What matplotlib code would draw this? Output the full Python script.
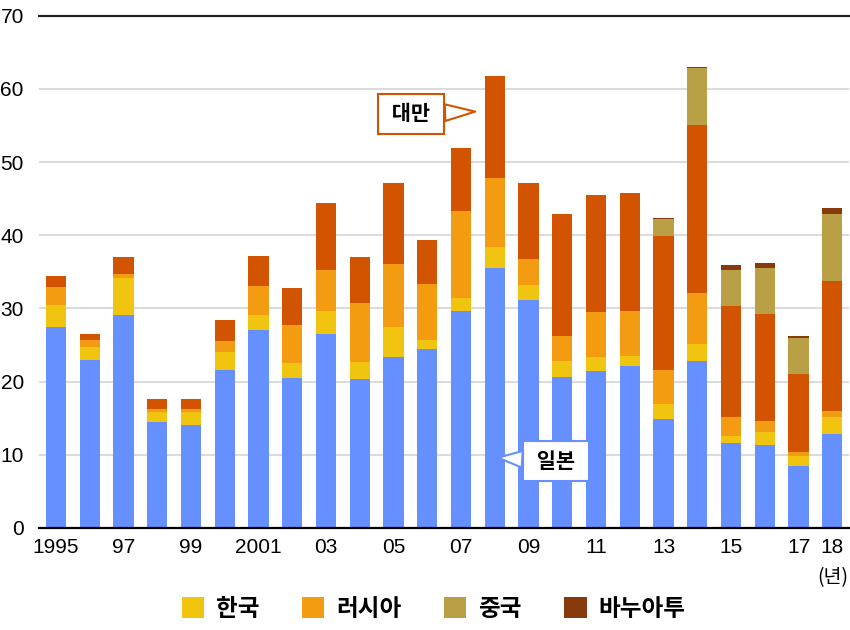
import numpy as np
import matplotlib.pyplot as plt
from matplotlib.patches import Patch

plt.rcParams['font.family'] = ['Liberation Sans', 'Noto Sans CJK KR', 'DejaVu Sans']

years = list(range(1995, 2019))
tick_labels = ['1995', '', '97', '', '99', '', '2001', '', '03', '', '05', '', '07', '',
               '09', '', '11', '', '13', '', '15', '', '17', '18']

# segment heights, stacked bottom to top
japan = [27.4, 22.9, 29.1, 14.5, 14.1, 21.6, 27.0, 20.5, 26.5, 20.4, 23.4, 24.5,
         29.6, 35.5, 31.1, 20.6, 21.5, 22.1, 14.9, 22.8, 11.6, 11.4, 8.4, 12.9]
korea = [3.1, 1.8, 5.0, 1.4, 1.8, 2.4, 2.1, 2.0, 3.1, 2.3, 4.0, 1.2,
         1.8, 2.9, 2.1, 2.2, 1.8, 1.4, 2.0, 2.3, 1.0, 1.7, 1.5, 2.3]
russia = [2.4, 1.0, 0.6, 0.4, 0.4, 1.6, 3.9, 5.2, 5.7, 8.1, 8.7, 7.6,
          11.9, 9.4, 3.6, 3.5, 6.2, 6.1, 4.7, 7.0, 2.5, 1.5, 0.5, 0.8]
taiwan = [1.5, 0.8, 2.3, 1.3, 1.3, 2.8, 4.1, 5.1, 9.1, 6.2, 11.1, 6.1,
          8.6, 14.0, 10.4, 16.6, 16.0, 16.2, 18.3, 23.0, 15.2, 14.6, 10.7, 17.8]
china = [0, 0, 0, 0, 0, 0, 0, 0, 0, 0, 0, 0,
         0, 0, 0, 0, 0, 0, 2.3, 7.8, 4.9, 6.3, 4.8, 9.1]
vanuatu = [0, 0, 0, 0, 0, 0, 0, 0, 0, 0, 0, 0,
           0, 0, 0, 0, 0, 0, 0.2, 0.1, 0.7, 0.7, 0.3, 0.8]

series = [
    ('일본', japan, '#6690FF'),
    ('한국', korea, '#F1C40F'),
    ('러시아', russia, '#F39C12'),
    ('대만', taiwan, '#D35400'),
    ('중국', china, '#B9A046'),
    ('바누아투', vanuatu, '#873A0C'),
]

fig = plt.figure(figsize=(8.5, 6.3), dpi=100)
ax = fig.add_axes([0.046, 0.162, 0.953, 0.813])

x = np.arange(len(years))
bottom = np.zeros(len(years))
for name, vals, color in series:
    vals = np.array(vals)
    ax.bar(x, vals, width=0.6, bottom=bottom, color=color, edgecolor='none', zorder=3)
    bottom += vals

ax.set_xlim(-0.5, len(years) - 0.5)
ax.set_ylim(0, 70)
ax.set_yticks(range(0, 71, 10))
ax.set_xticks(x)
ax.set_xticklabels(tick_labels)
ax.tick_params(axis='both', length=0, labelsize=15)
ax.tick_params(axis='x', pad=7)
ax.tick_params(axis='y', pad=11)
for s in ['left', 'right', 'top']:
    ax.spines[s].set_visible(False)
ax.spines['bottom'].set_linewidth(1.6)
ax.spines['bottom'].set_zorder(4)
ax.yaxis.grid(True, color='#d4d4d4', linewidth=1.2, zorder=0)
ax.axhline(70, color='#222222', linewidth=1.6, zorder=4, clip_on=False)

ax.text(23.0, -6.8, '(년)', ha='center', va='center', fontsize=14,
        family=['Noto Sans CJK KR'])

# callouts
ax.annotate(' 대만 ', xy=(12.42, 56.9), xytext=(10.52, 56.6), fontsize=15, fontweight='bold',
            family=['Noto Sans CJK KR'], ha='center', va='center', zorder=6,
            bbox=dict(boxstyle='square,pad=0.45', fc='white', ec='#D35400', lw=1.5),
            arrowprops=dict(arrowstyle='wedge,tail_width=0.8,shrink_factor=0.5',
                            fc='white', ec='#D35400', lw=1.5, shrinkA=0, shrinkB=0))
ax.annotate(' 일본 ', xy=(13.1, 9.6), xytext=(14.82, 9.1), fontsize=15, fontweight='bold',
            family=['Noto Sans CJK KR'], ha='center', va='center', zorder=6,
            bbox=dict(boxstyle='square,pad=0.45', fc='white', ec='#6690FF', lw=1.5),
            arrowprops=dict(arrowstyle='wedge,tail_width=0.8,shrink_factor=0.5',
                            fc='white', ec='#6690FF', lw=1.5, shrinkA=0, shrinkB=0))

handles = [Patch(facecolor=c, edgecolor='none', label=n) for n, _, c in series
           if n in ('한국', '러시아', '중국', '바누아투')]
leg = fig.legend(handles=handles, loc='center', bbox_to_anchor=(0.51, 0.034), ncol=4,
                 frameon=False, handlelength=0.95, handleheight=0.95, columnspacing=1.8,
                 handletextpad=0.5, prop={'family': ['Noto Sans CJK KR'], 'weight': 'bold',
                                          'size': 17})

fig.savefig('out.png', dpi=100)
